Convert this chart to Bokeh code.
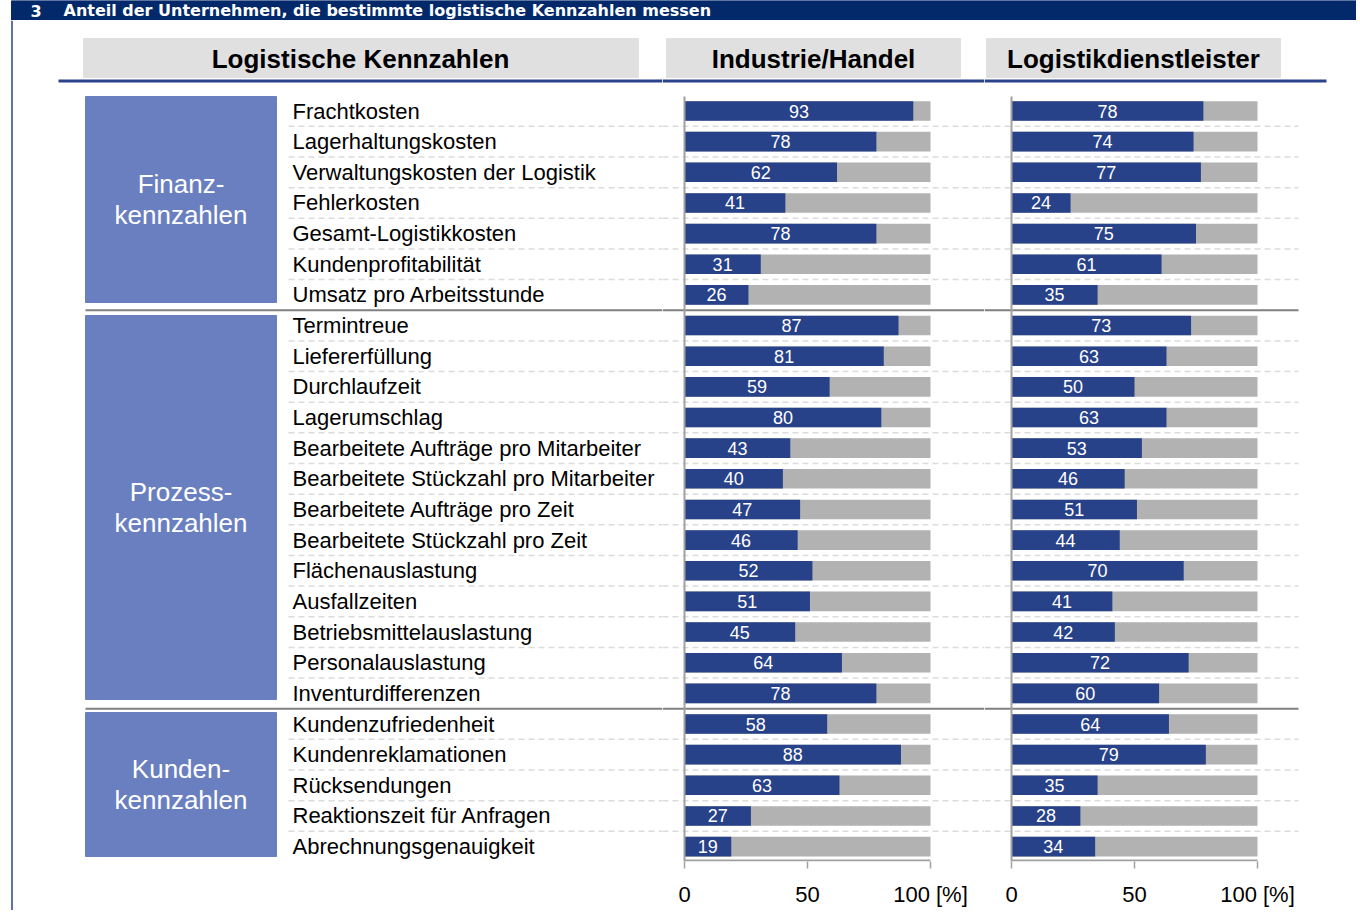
from bokeh.plotting import figure
from bokeh.layouts import row, column
from bokeh.models import Range1d, FixedTicker, ColumnDataSource
from bokeh.core.properties import value
from bokeh.embed import file_html
from bokeh.resources import INLINE

# ---------------- data ----------------
kennzahlen = [
    "Frachtkosten", "Lagerhaltungskosten", "Verwaltungskosten der Logistik",
    "Fehlerkosten", "Gesamt-Logistikkosten", "Kundenprofitabilität",
    "Umsatz pro Arbeitsstunde", "Termintreue", "Liefererfüllung",
    "Durchlaufzeit", "Lagerumschlag", "Bearbeitete Aufträge pro Mitarbeiter",
    "Bearbeitete Stückzahl pro Mitarbeiter", "Bearbeitete Aufträge pro Zeit",
    "Bearbeitete Stückzahl pro Zeit", "Flächenauslastung", "Ausfallzeiten",
    "Betriebsmittelauslastung", "Personalauslastung", "Inventurdifferenzen",
    "Kundenzufriedenheit", "Kundenreklamationen", "Rücksendungen",
    "Reaktionszeit für Anfragen", "Abrechnungsgenauigkeit",
]
industrie = [93, 78, 62, 41, 78, 31, 26, 87, 81, 59, 80, 43, 40, 47, 46,
             52, 51, 45, 64, 78, 58, 88, 63, 27, 19]
logistik = [78, 74, 77, 24, 75, 61, 35, 73, 63, 50, 63, 53, 46, 51, 44,
            70, 41, 42, 72, 60, 64, 79, 35, 28, 34]
gruppen = ["Finanz-\nkennzahlen", "Prozess-\nkennzahlen", "Kunden-\nkennzahlen"]
gruppen_start = [0, 7, 20]
gruppen_ende = [6, 19, 24]
spalten_titel = ["Logistische Kennzahlen", "Industrie/Handel", "Logistikdienstleister"]
achsen_ticks = [0, 50, 100]
achsen_einheit = "[%]"
titel_nr = "3"
titel = "Anteil der Unternehmen, die bestimmte logistische Kennzahlen messen"

# ---------------- style ----------------
FONT = "Liberation Sans"
BANNER = "#03296a"
HEAD_GRAY = "#e0e0e0"
LINE_BLUE = "#2a438c"
BAR_BLUE = "#28428a"
BAR_GRAY = "#b2b2b2"
GROUP_BLUE = "#6a7fc0"
SEP = "#808080"
DASH = "#dcdcdc"
AXIS = "#a0a0a0"

ROW0 = 110.5      # screen y of first row centre
ROWH = 30.65      # row pitch in px
TOP = 20          # top of main panels (below banner)
AX_Y = 861        # axis position
BOT = 910
SCALE = 2.46      # px per percent
X0_I = 684
X0_D = 1011


def u(Y):
    return (Y - ROW0) / ROWH


def pi(X):
    return (X - X0_I) / SCALE


def pd(X):
    return (X - X0_D) / SCALE


n = len(kennzahlen)
ys = list(range(n))


def base_fig(fw, fh, xr, yr, axis=False):
    p = figure(frame_width=fw, frame_height=fh, x_range=xr, y_range=yr,
               output_backend="svg", toolbar_location=None,
               x_axis_location="below" if axis else None,
               y_axis_location=None, min_border=0)
    p.min_border_left = 0
    p.min_border_right = 0
    p.min_border_top = 0
    p.min_border_bottom = 0
    p.outline_line_color = None
    p.grid.visible = False
    p.background_fill_color = "white"
    p.border_fill_color = "white"
    return p


# ---------------- banner ----------------
W_L, W_I = 662, 322
W_D = 1356 - W_L - W_I
total_w = W_L + W_I + W_D
ban = base_fig(total_w, TOP, Range1d(0, total_w), Range1d(TOP, 0))
ban.quad(left=11, right=total_w, top=0, bottom=TOP, color=BANNER)
ban.text(x=[30, 63], y=[10, 10], text=[titel_nr, titel], text_color="white",
         text_font=value("DejaVu Sans"), text_font_style="bold",
         text_font_size="16px", text_baseline="middle")

# ---------------- left panel ----------------
pL = base_fig(W_L, BOT - TOP, Range1d(0, W_L), Range1d(u(BOT), u(TOP)))
pL.segment(x0=[11.5], y0=[u(TOP)], x1=[11.5], y1=[u(BOT)], line_color="#6072a8", line_width=2)
pL.quad(left=83, right=638, top=u(38), bottom=u(77), color=HEAD_GRAY)
pL.text(x=[360], y=[u(58)], text=[spalten_titel[0]], text_font=value(FONT),
        text_font_style="bold", text_font_size="26px", text_align="center",
        text_baseline="middle", text_color="black")
pL.segment(x0=[58], y0=[u(80.5)], x1=[W_L], y1=[u(80.5)], line_color=LINE_BLUE, line_width=3)

box_top = [u(96), u(315), u(712)]
box_bot = [u(302), u(699), u(856)]
pL.quad(left=85, right=276, top=box_top, bottom=box_bot, color=GROUP_BLUE)
pL.text(x=[180.5] * 3, y=[(a + b) / 2 for a, b in zip(box_top, box_bot)], text=gruppen,
        text_font=value(FONT), text_font_size="26px", text_color="white",
        text_align="center", text_baseline="middle", text_line_height=1.02)

pL.text(x=[292] * n, y=ys, text=kennzahlen, text_font=value(FONT), text_font_size="22px",
        text_color="black", text_align="left", text_baseline="middle")

# separators
sep_y = [e + 0.5 for e in gruppen_ende[:-1]]
dash_y = [i + 0.5 for i in range(n - 1) if (i + 0.5) not in sep_y]


def lines(p, xa_sep, xa_dash, xb):
    p.segment(x0=[xa_dash] * len(dash_y), y0=dash_y, x1=[xb] * len(dash_y), y1=dash_y,
              line_color=DASH, line_width=1.5, line_dash="6 4")
    p.segment(x0=[xa_sep] * len(sep_y), y0=sep_y, x1=[xb] * len(sep_y), y1=sep_y,
              line_color=SEP, line_width=2)


lines(pL, 85, 288, W_L)


# ---------------- bar panels ----------------
def bar_panel(width, vals, conv, x_left_px, x_right_px, head, hl, hr, line_end, sep_end):
    xr = Range1d(conv(x_left_px), conv(x_right_px))
    yr = Range1d(u(AX_Y), u(TOP))
    p = base_fig(width, AX_Y - TOP, xr, yr, axis=True)
    # header
    p.quad(left=conv(hl), right=conv(hr), top=u(38), bottom=u(77), color=HEAD_GRAY)
    p.text(x=[conv((hl + hr) / 2)], y=[u(58)], text=[head], text_font=value(FONT),
           text_font_style="bold", text_font_size="26px", text_align="center",
           text_baseline="middle", text_color="black")
    p.segment(x0=[conv(x_left_px)], y0=[u(80.5)], x1=[conv(line_end)], y1=[u(80.5)],
              line_color=LINE_BLUE, line_width=3)
    # grid lines
    lines(p, conv(x_left_px), conv(x_left_px), conv(sep_end))
    src = ColumnDataSource(dict(y=ys, v=vals, half=[v / 2 for v in vals],
                                lab=[str(v) for v in vals]))
    p.hbar(y="y", left=0, right=achsen_ticks[-1], height=0.64, source=src,
           fill_color=BAR_GRAY, line_color=None)
    p.hbar(y="y", left=0, right="v", height=0.64, source=src,
           fill_color=BAR_BLUE, line_color=None)
    p.text(x="half", y="y", text="lab", source=src, text_font=value(FONT),
           text_font_size="18px", text_color="white", text_align="center",
           text_baseline="middle")
    # axis lines
    p.segment(x0=[0], y0=[u(96)], x1=[0], y1=[u(AX_Y)], line_color=AXIS, line_width=2)
    p.segment(x0=[achsen_ticks[0]], y0=[u(AX_Y - 1)], x1=[achsen_ticks[-1]], y1=[u(AX_Y - 1)],
              line_color=AXIS, line_width=2)
    ax = p.xaxis[0]
    ax.ticker = FixedTicker(ticks=achsen_ticks)
    ax.major_label_overrides = {achsen_ticks[-1]: f"{achsen_ticks[-1]} {achsen_einheit}"}
    ax.axis_line_color = None
    ax.major_tick_line_color = AXIS
    ax.major_tick_line_width = 1.5
    ax.major_tick_out = 7
    ax.major_tick_in = 0
    ax.minor_tick_line_color = None
    ax.major_label_text_font = FONT
    ax.major_label_text_font_size = "22px"
    ax.major_label_text_color = "black"
    ax.major_label_standoff = 13
    return p


pI = bar_panel(W_I, industrie, pi, W_L, W_L + W_I, spalten_titel[1], 666, 960,
               W_L + W_I, W_L + W_I)
pD = bar_panel(W_D, logistik, pd, W_L + W_I, total_w, spalten_titel[2], 986, 1280,
               1326, 1298)

layout = column(ban, row(pL, pI, pD, spacing=0), spacing=0)

open("out.html", "w").write(file_html(layout, INLINE))
